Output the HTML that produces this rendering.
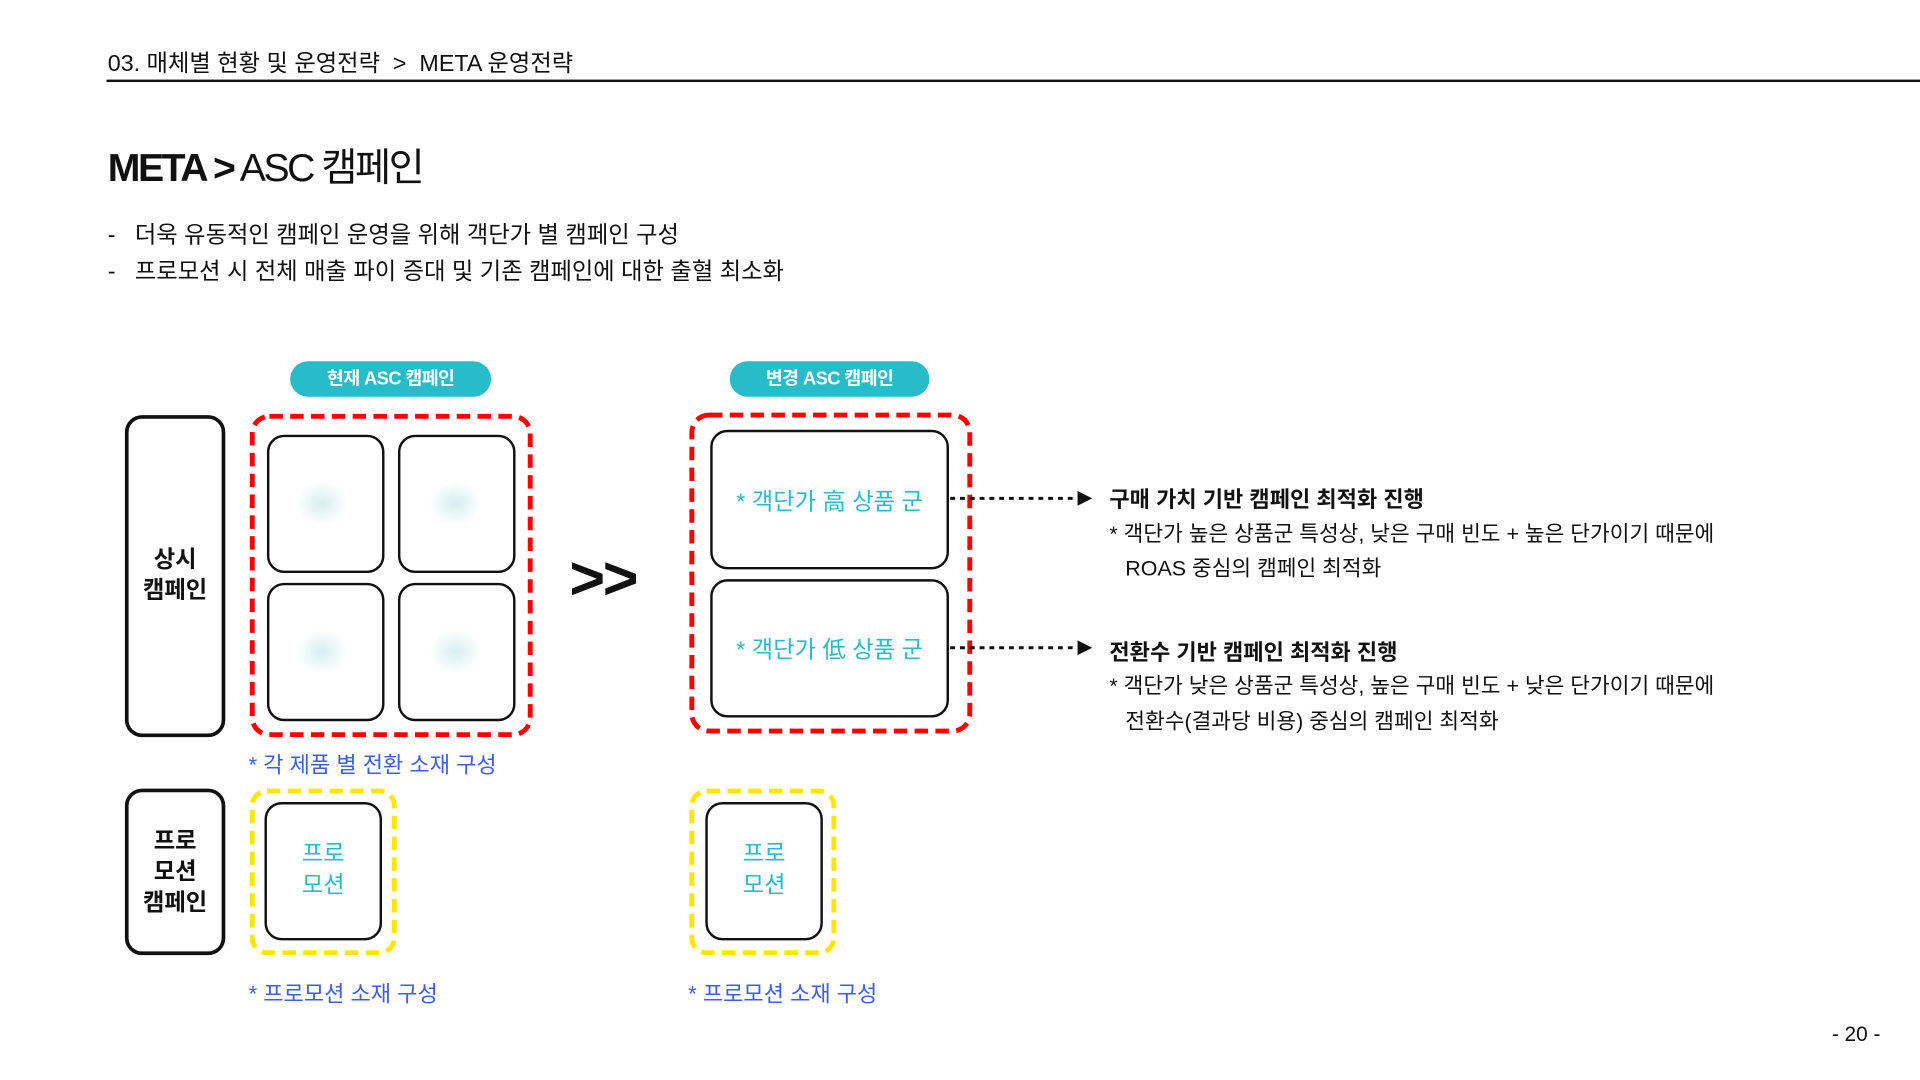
<!DOCTYPE html>
<html><head><meta charset="utf-8"><style>
html,body{margin:0;padding:0;width:1920px;height:1080px;overflow:hidden;background:#fff}
#w{position:absolute;left:0;top:0;width:1568px;height:882px;transform:scale(1.22449);transform-origin:0 0;font-family:"Liberation Sans","Noto Sans CJK KR",sans-serif;color:#111}
.a{position:absolute;white-space:nowrap}
.k{letter-spacing:0}
.box{position:absolute;box-sizing:border-box;border:2.5px solid #111;border-radius:14px;background:#fff}
.pill{position:absolute;background:#27bcc8;color:#fff;font-weight:bold;font-size:15px;text-align:center;border-radius:15px;height:29px;line-height:29px;letter-spacing:-0.5px}
.teal{color:#27bcc8}
.blue{color:#3d5fe0}
.blur{position:absolute;width:40px;height:34px;background:radial-gradient(#d6eef0,#fff 75%)}
</style></head><body><div id="w">
<div class="a k" style="left:88px;top:37px;font-size:19px">03. 매체별 현황 및 운영전략 &nbsp;&gt;&nbsp; META 운영전략</div>
<div class="a" style="left:87px;top:65px;width:1481px;height:2px;background:#111"></div>
<div class="a" style="left:88px;top:112px;font-size:32px;letter-spacing:-2px"><b>META &gt;</b> ASC 캠페인</div>
<div class="a k" style="left:88px;top:177px;font-size:19px">-&nbsp;&nbsp; 더욱 유동적인 캠페인 운영을 위해 객단가 별 캠페인 구성</div>
<div class="a k" style="left:88px;top:207px;font-size:19px">-&nbsp;&nbsp; 프로모션 시 전체 매출 파이 증대 및 기존 캠페인에 대한 출혈 최소화</div>

<div class="pill" style="left:237px;top:295px;width:164px">현재 ASC 캠페인</div>
<div class="pill" style="left:596px;top:295px;width:163px">변경 ASC 캠페인</div>

<div class="box" style="left:102px;top:339px;width:82px;height:263px;border-width:3px"></div>
<div class="a" style="left:102px;top:445px;width:82px;text-align:center;font-weight:bold;font-size:19px;line-height:25px">상시<br>캠페인</div>
<div class="box" style="left:102px;top:644px;width:82px;height:136px;border-width:3px"></div>
<div class="a" style="left:102px;top:675px;width:82px;text-align:center;font-weight:bold;font-size:19px;line-height:25px">프로<br>모션<br>캠페인</div>

<svg class="a" style="left:0;top:0" width="1568" height="882">
<rect x="206" y="340" width="227" height="260" rx="14" fill="none" stroke="#f00" stroke-width="4" stroke-dasharray="11 6"/>
<rect x="565" y="339" width="227" height="258" rx="14" fill="none" stroke="#f00" stroke-width="4" stroke-dasharray="11 6"/>
<rect x="206" y="646" width="116" height="132" rx="12" fill="none" stroke="#ffe600" stroke-width="4" stroke-dasharray="11 6"/>
<rect x="565" y="646" width="116" height="132" rx="12" fill="none" stroke="#ffe600" stroke-width="4" stroke-dasharray="11 6"/>
<line x1="776" y1="407" x2="880" y2="407" stroke="#111" stroke-width="2.5" stroke-dasharray="4 4"/>
<polygon points="880,401 892,407 880,413" fill="#111"/>
<line x1="776" y1="529" x2="880" y2="529" stroke="#111" stroke-width="2.5" stroke-dasharray="4 4"/>
<polygon points="880,523 892,529 880,535" fill="#111"/>
</svg>

<div class="box" style="left:218px;top:355px;width:96px;height:113px"></div>
<div class="box" style="left:325px;top:355px;width:96px;height:113px"></div>
<div class="box" style="left:218px;top:476px;width:96px;height:113px"></div>
<div class="box" style="left:325px;top:476px;width:96px;height:113px"></div>
<div class="blur" style="left:243px;top:394px"></div>
<div class="blur" style="left:352px;top:394px"></div>
<div class="blur" style="left:243px;top:515px"></div>
<div class="blur" style="left:352px;top:515px"></div>

<div class="a" style="left:465px;top:443px;font-size:50px;font-weight:bold;letter-spacing:-2px">&gt;&gt;</div>

<div class="box" style="left:580px;top:351px;width:195px;height:114px"></div>
<div class="box" style="left:580px;top:473px;width:195px;height:113px"></div>
<div class="a teal" style="left:580px;top:395px;width:195px;text-align:center;font-size:19px">* 객단가 高 상품 군</div>
<div class="a teal" style="left:580px;top:516px;width:195px;text-align:center;font-size:19px">* 객단가 低 상품 군</div>

<div class="a k" style="left:906px;top:394px;font-size:18px;font-weight:bold">구매 가치 기반 캠페인 최적화 진행</div>
<div class="a k" style="left:906px;top:423px;font-size:17.5px">* 객단가 높은 상품군 특성상, 낮은 구매 빈도 + 높은 단가이기 때문에</div>
<div class="a k" style="left:919px;top:451px;font-size:17.5px">ROAS 중심의 캠페인 최적화</div>
<div class="a k" style="left:906px;top:519px;font-size:18px;font-weight:bold">전환수 기반 캠페인 최적화 진행</div>
<div class="a k" style="left:906px;top:547px;font-size:17.5px">* 객단가 낮은 상품군 특성상, 높은 구매 빈도 + 낮은 단가이기 때문에</div>
<div class="a k" style="left:919px;top:576px;font-size:17.5px">전환수(결과당 비용) 중심의 캠페인 최적화</div>

<div class="a blue k" style="left:203px;top:611px;font-size:18px">* 각 제품 별 전환 소재 구성</div>

<div class="box" style="left:216px;top:655px;width:96px;height:113px"></div>
<div class="a teal" style="left:216px;top:685px;width:96px;text-align:center;font-size:19px;line-height:26px">프로<br>모션</div>
<div class="box" style="left:576px;top:655px;width:96px;height:113px"></div>
<div class="a teal" style="left:576px;top:685px;width:96px;text-align:center;font-size:19px;line-height:26px">프로<br>모션</div>

<div class="a blue k" style="left:203px;top:798px;font-size:18px">* 프로모션 소재 구성</div>
<div class="a blue k" style="left:562px;top:798px;font-size:18px">* 프로모션 소재 구성</div>

<div class="a" style="left:1496px;top:835px;font-size:17px">- 20 -</div>
</div></body></html>
